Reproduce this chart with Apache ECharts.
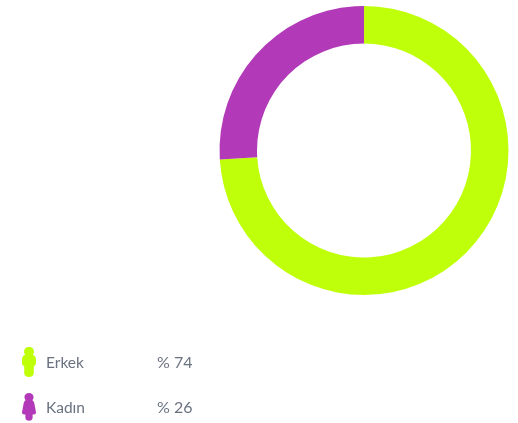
<!DOCTYPE html>
<html>
<head>
<meta charset="utf-8">
<style>html,body{margin:0;padding:0;background:#fff}#chart{width:518px;height:423px}</style>
<script src="https://cdn.jsdelivr.net/npm/echarts@6/dist/echarts.min.js"></script>
</head>
<body>
<div id="chart"></div>
<script>
// Gender split shown as a ring, with person-shaped legend markers
const categories = ['Erkek', 'Kadın'];
const shares = [74, 26];
const colors = ['#BFFF0A', '#B23AB8'];

const manIcon = 'path://M7 0C10 0 12 2 12 4.6C12 6 11.5 7 10.8 7.8C12.8 8.6 14 10 14 12.4V16C14 17.8 13 18.8 11.8 19.2V26C11.8 28.5 9.8 30 7 30C4.2 30 2.2 28.5 2.2 26V19.2C1 18.8 0 17.8 0 16V12.4C0 10 1.2 8.6 3.2 7.8C2.5 7 2 6 2 4.6C2 2 4 0 7 0Z';
const womanIcon = 'path://M7.5 0C10.5 0 12.4 1.9 12.4 4.4C12.4 5.8 11.9 6.9 11.1 7.7C12.4 8.5 13 9.7 13.3 11.2L15 20.6C15.3 22.3 14.3 23.2 12.8 23.2H11.4V26.4C11.4 28.6 9.7 30 7.5 30C5.3 30 3.6 28.6 3.6 26.4V23.2H2.2C0.7 23.2 -0.3 22.3 0 20.6L1.7 11.2C2 9.7 2.6 8.5 3.9 7.7C3.1 6.9 2.6 5.8 2.6 4.4C2.6 1.9 4.5 0 7.5 0Z';
const icons = [manIcon, womanIcon];

const chart = echarts.init(document.getElementById('chart'), null, {renderer: 'canvas'});
chart.setOption({
  animation: false,
  backgroundColor: '#ffffff',
  legend: {
    orient: 'vertical',
    left: 22,
    top: 347,
    padding: 0,
    itemWidth: 14,
    itemHeight: 30,
    itemGap: 16,
    selectedMode: false,
    data: categories.map((name, i) => ({name, icon: icons[i]})),
    formatter: name => {
      const i = categories.indexOf(name);
      return '{n|' + name + '}{v|% ' + shares[i] + '}';
    },
    textStyle: {
      rich: {
        n: {width: 111, padding: [2, 0, 0, 5], fontFamily: 'Lato', fontSize: 15.5, color: '#6A7280'},
        v: {padding: [2, 0, 0, 0], fontFamily: 'Lato', fontSize: 16, color: '#6A7280'}
      }
    }
  },
  series: [{
    type: 'pie',
    center: [364, 150.5],
    radius: [107, 144.5],
    startAngle: 90,
    clockwise: true,
    silent: true,
    label: {show: false},
    labelLine: {show: false},
    data: categories.map((name, i) => ({
      name,
      value: shares[i],
      itemStyle: {color: colors[i]}
    }))
  }]
});
</script>
</body>
</html>
